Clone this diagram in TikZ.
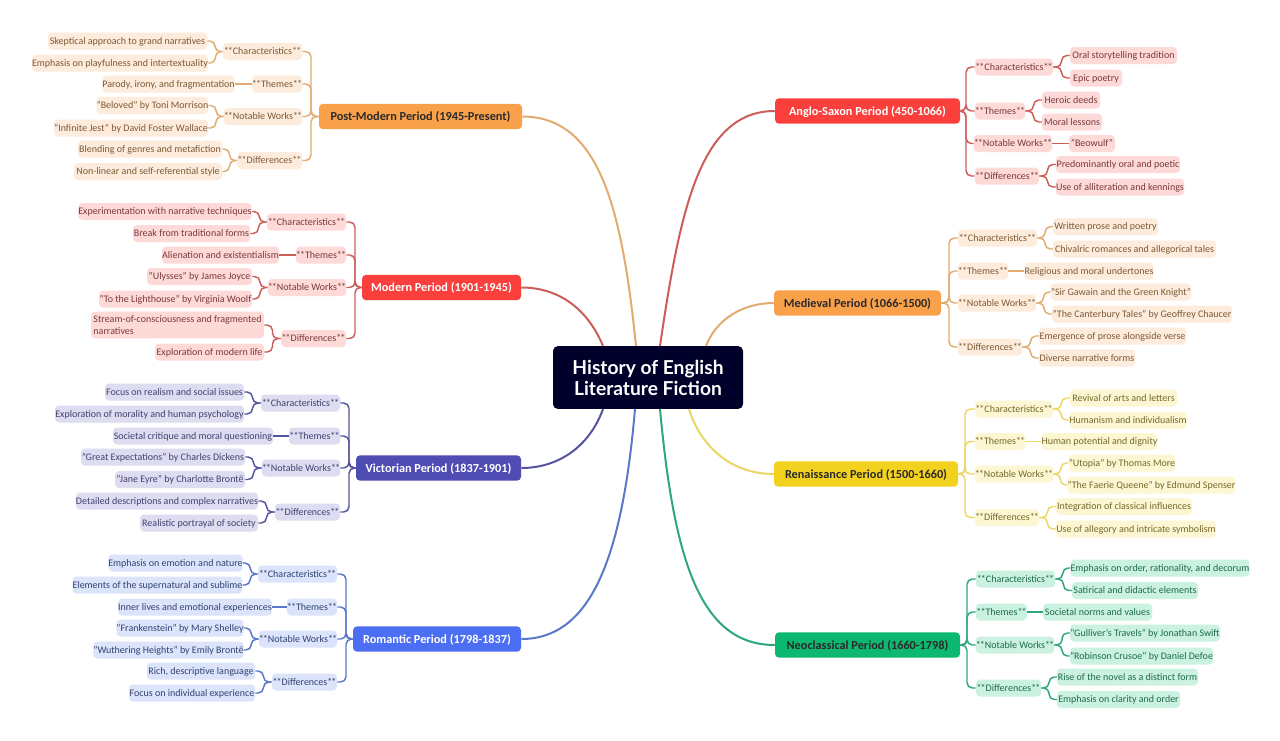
\documentclass[tikz,border=0pt]{standalone}
\usepackage{fontspec}
\setmainfont{Carlito}
\newfontfamily\titlefont{Lato}
\usetikzlibrary{calc}
\definecolor{cdark}{HTML}{00002B}
\definecolor{ink}{HTML}{2A2A2A}
\definecolor{rF}{HTML}{FA3F3C}\definecolor{rP}{HTML}{FDD9D8}\definecolor{rL}{HTML}{CC5E5A}\definecolor{rT}{HTML}{7A3A3A}
\definecolor{oF}{HTML}{F9A04B}\definecolor{oP}{HTML}{FDEBDC}\definecolor{oL}{HTML}{E2AC70}\definecolor{oT}{HTML}{7C5A36}
\definecolor{yF}{HTML}{F2D21F}\definecolor{yP}{HTML}{FDF6D2}\definecolor{yL}{HTML}{EBD765}\definecolor{yT}{HTML}{75692C}
\definecolor{gF}{HTML}{0DB870}\definecolor{gP}{HTML}{CBF1E1}\definecolor{gL}{HTML}{2FA67E}\definecolor{gT}{HTML}{1E6A50}
\definecolor{vF}{HTML}{4F4CB3}\definecolor{vP}{HTML}{DDDCF1}\definecolor{vL}{HTML}{55559E}\definecolor{vT}{HTML}{42426F}
\definecolor{bF}{HTML}{4C6EF2}\definecolor{bP}{HTML}{DCE4FB}\definecolor{bL}{HTML}{5A78C9}\definecolor{bT}{HTML}{304270}
\tikzset{
  leaf/.style={fill=#1P,text=#1T,rounded corners=3pt,inner sep=0pt,font=\fontsize{7.5pt}{9pt}\selectfont,minimum height=12.75pt},
  period/.style={fill=#1F,rounded corners=3pt,inner sep=0pt,font=\fontsize{9.2pt}{12pt}\selectfont\bfseries,minimum height=19pt,text height=7.7pt,text depth=1.5pt},
  link/.style={draw=#1L,line width=1.1pt,rounded corners=4pt},
  mainlink/.style={draw=#1L,line width=1.5pt},
}
\newcommand\stars{*\kern-0.7pt*}
\newcommand\Chr{\stars Characteristics\stars}
\newcommand\Thm{\stars Themes\stars}
\newcommand\Nwk{\stars Notable Works\stars}
\newcommand\Dif{\stars Differences\stars}
\newcommand\pill[6]{\pgfmathsetmacro\pw{(#4-#3)*0.75}\pgfmathsetmacro\px{(#3+#4)/2}%
  \node[leaf=#1,text height=6pt,text depth=1.4pt,minimum width=\pw pt] (#2) at (\px,#5) {#6};}
\newcommand\per[7]{\pgfmathsetmacro\pw{(#4-#3)*0.75}\pgfmathsetmacro\px{(#3+#4)/2}%
  \node[period=#1,text=#7,minimum width=\pw pt] (#2) at (\px,#5) {#6};}
% links with an elbow halfway across the gap, and straight ones for an only child
\newcommand\rlink[3]{\draw[link=#1] (#2.east) -- ($(#2.east)!.5!(#2.east -| #3.west)$) |- (#3.west);}
\newcommand\llink[3]{\draw[link=#1] (#2.west) -- ($(#2.west)!.5!(#2.west -| #3.east)$) |- (#3.east);}
\newcommand\rstraight[3]{\draw[link=#1] (#2.east) -- (#3.west);}
\newcommand\lstraight[3]{\draw[link=#1] (#2.west) -- (#3.east);}
\newcommand\rspine[4]{\coordinate (sp) at (#4,0);\draw[link=#1] (#2.east) -- (#2.east -| sp) |- (#3.west);}
\newcommand\lspine[4]{\coordinate (sp) at (#4,0);\draw[link=#1] (#2.west) -- (#2.west -| sp) |- (#3.east);}
\begin{document}
\begin{tikzpicture}[x=0.75pt,y=-0.75pt]
\useasboundingbox (0,0) rectangle (1280,740);
\fill[white] (0,0) rectangle (1280,740);

\node[fill=cdark,text=white,rounded corners=3.5pt,inner sep=0pt,minimum width=142.5pt,minimum height=47pt,align=center,font=\titlefont\fontsize{14.4pt}{15.8pt}\selectfont\bfseries] (c) at (648,377.5) {History of English\\ Literature Fiction};
\coordinate (tPM) at ($(c.north)+(-12,0)$);
\coordinate (tMO) at ($(c.north)+(-45,0)$);
\coordinate (tAS) at ($(c.north)+(12,0)$);
\coordinate (tME) at ($(c.north)+(58,0)$);
\coordinate (bVI) at ($(c.south)+(-45,0)$);
\coordinate (bRO) at ($(c.south)+(-13,0)$);
\coordinate (bNE) at ($(c.south)+(12,0)$);
\coordinate (bRE) at ($(c.south)+(41,0)$);

% ---- Anglo-Saxon
\per{r}{as}{775}{960}{111}{Anglo-Saxon Period (450-1066)}{white}
\pill{r}{as1}{975}{1053}{67}{\Chr}
\pill{r}{as1a}{1070}{1177}{55.5}{Oral storytelling tradition}
\pill{r}{as1b}{1070}{1122}{78}{Epic poetry}
\pill{r}{as2}{975}{1025}{111}{\Thm}
\pill{r}{as2a}{1042}{1100}{100}{Heroic deeds}
\pill{r}{as2b}{1042}{1102}{122}{Moral lessons}
\pill{r}{as3}{975}{1051}{143.5}{\Nwk}
\pill{r}{as3a}{1069}{1115}{143.5}{"Beowulf"}
\pill{r}{as4}{975}{1039}{176}{\Dif}
\pill{r}{as4a}{1056}{1180}{164.5}{Predominantly oral and poetic}
\pill{r}{as4b}{1056}{1184}{187}{Use of alliteration and kennings}
\rspine{r}{as}{as1}{966}\rspine{r}{as}{as2}{966}\rspine{r}{as}{as3}{966}\rspine{r}{as}{as4}{966}
\rlink{r}{as1}{as1a}\rlink{r}{as1}{as1b}\rlink{r}{as2}{as2a}\rlink{r}{as2}{as2b}\rstraight{r}{as3}{as3a}\rlink{r}{as4}{as4a}\rlink{r}{as4}{as4b}

% ---- Medieval
\per{o}{me}{774}{941}{303}{Medieval Period (1066-1500)}{ink}
\pill{o}{me1}{958}{1037}{238}{\Chr}
\pill{o}{me1a}{1053}{1158}{226.7}{Written prose and poetry}
\pill{o}{me1b}{1053}{1216}{249}{Chivalric romances and allegorical tales}
\pill{o}{me2}{958}{1008}{271}{\Thm}
\pill{o}{me2a}{1025}{1153}{271}{Religious and moral undertones}
\pill{o}{me3}{958}{1036}{303}{\Nwk}
\pill{o}{me3a}{1052}{1190}{292}{"Sir Gawain and the Green Knight"}
\pill{o}{me3b}{1052}{1232}{314}{"The Canterbury Tales" by Geoffrey Chaucer}
\pill{o}{me4}{958}{1022}{347}{\Dif}
\pill{o}{me4a}{1039}{1186}{336}{Emergence of prose alongside verse}
\pill{o}{me4b}{1039}{1135}{358}{Diverse narrative forms}
\rspine{o}{me}{me1}{949}\rspine{o}{me}{me2}{949}\rspine{o}{me}{me3}{949}\rspine{o}{me}{me4}{949}
\rlink{o}{me1}{me1a}\rlink{o}{me1}{me1b}\rstraight{o}{me2}{me2a}\rlink{o}{me3}{me3a}\rlink{o}{me3}{me3b}\rlink{o}{me4}{me4a}\rlink{o}{me4}{me4b}

% ---- Renaissance
\per{y}{re}{774}{958}{474}{Renaissance Period (1500-1660)}{ink}
\pill{y}{re1}{976}{1052}{409}{\Chr}
\pill{y}{re1a}{1070}{1177}{398}{Revival of arts and letters}
\pill{y}{re1b}{1070}{1186}{420}{Humanism and individualism}
\pill{y}{re2}{976}{1024}{441.5}{\Thm}
\pill{y}{re2a}{1042}{1157}{441.5}{Human potential and dignity}
\pill{y}{re3}{976}{1052}{474}{\Nwk}
\pill{y}{re3a}{1070}{1174}{463}{"Utopia" by Thomas More}
\pill{y}{re3b}{1070}{1233}{485}{"The Faerie Queene" by Edmund Spenser}
\pill{y}{re4}{976}{1038}{517.5}{\Dif}
\pill{y}{re4a}{1056}{1192}{506.5}{Integration of classical influences}
\pill{y}{re4b}{1056}{1216}{529}{Use of allegory and intricate symbolism}
\rspine{y}{re}{re1}{965}\rspine{y}{re}{re2}{965}\rspine{y}{re}{re3}{965}\rspine{y}{re}{re4}{965}
\rlink{y}{re1}{re1a}\rlink{y}{re1}{re1b}\rstraight{y}{re2}{re2a}\rlink{y}{re3}{re3a}\rlink{y}{re3}{re3b}\rlink{y}{re4}{re4a}\rlink{y}{re4}{re4b}

% ---- Neoclassical
\per{g}{ne}{775}{960}{645}{Neoclassical Period (1660-1798)}{ink}
\pill{g}{ne1}{976}{1055}{579}{\Chr}
\pill{g}{ne1a}{1072}{1248}{568}{Emphasis on order, rationality, and decorum}
\pill{g}{ne1b}{1072}{1198}{590.5}{Satirical and didactic elements}
\pill{g}{ne2}{976}{1027}{612}{\Thm}
\pill{g}{ne2a}{1043}{1152}{612}{Societal norms and values}
\pill{g}{ne3}{976}{1054}{645}{\Nwk}
\pill{g}{ne3a}{1070}{1220}{633}{"Gulliver's Travels" by Jonathan Swift}
\pill{g}{ne3b}{1070}{1213}{656}{"Robinson Crusoe" by Daniel Defoe}
\pill{g}{ne4}{976}{1041}{688}{\Dif}
\pill{g}{ne4a}{1057}{1198}{677}{Rise of the novel as a distinct form}
\pill{g}{ne4b}{1057}{1180}{699.5}{Emphasis on clarity and order}
\rspine{g}{ne}{ne1}{967}\rspine{g}{ne}{ne2}{967}\rspine{g}{ne}{ne3}{967}\rspine{g}{ne}{ne4}{967}
\rlink{g}{ne1}{ne1a}\rlink{g}{ne1}{ne1b}\rstraight{g}{ne2}{ne2a}\rlink{g}{ne3}{ne3a}\rlink{g}{ne3}{ne3b}\rlink{g}{ne4}{ne4a}\rlink{g}{ne4}{ne4b}

% ---- Post-Modern
\per{o}{pm}{319}{522}{116.5}{Post-Modern Period (1945-Present)}{ink}
\pill{o}{pm1}{223}{302}{51.5}{\Chr}
\pill{o}{pm1a}{48}{207}{41}{Skeptical approach to grand narratives}
\pill{o}{pm1b}{33}{207}{63}{Emphasis on playfulness and intertextuality}
\pill{o}{pm2}{252}{302}{84}{\Thm}
\pill{o}{pm2a}{103}{234}{84}{Parody, irony, and fragmentation}
\pill{o}{pm3}{224}{302}{116.5}{\Nwk}
\pill{o}{pm3a}{97}{208}{105.5}{"Beloved" by Toni Morrison}
\pill{o}{pm3b}{54}{208}{128}{"Infinite Jest" by David Foster Wallace}
\pill{o}{pm4}{237}{302}{160.5}{\Dif}
\pill{o}{pm4a}{78}{222}{149}{Blending of genres and metafiction}
\pill{o}{pm4b}{74}{222}{171.5}{Non-linear and self-referential style}
\lspine{o}{pm}{pm1}{311}\lspine{o}{pm}{pm2}{311}\lspine{o}{pm}{pm3}{311}\lspine{o}{pm}{pm4}{311}
\llink{o}{pm1}{pm1a}\llink{o}{pm1}{pm1b}\lstraight{o}{pm2}{pm2a}\llink{o}{pm3}{pm3a}\llink{o}{pm3}{pm3b}\llink{o}{pm4}{pm4a}\llink{o}{pm4}{pm4b}

% ---- Modern
\per{r}{mo}{362}{521}{287.5}{Modern Period (1901-1945)}{white}
\pill{r}{mo1}{267}{346}{222}{\Chr}
\pill{r}{mo1a}{80}{250}{211.5}{Experimentation with narrative techniques}
\pill{r}{mo1b}{133}{250}{233.5}{Break from traditional forms}
\pill{r}{mo2}{296}{346}{255}{\Thm}
\pill{r}{mo2a}{162}{279}{255}{Alienation and existentialism}
\pill{r}{mo3}{268}{346}{287.5}{\Nwk}
\pill{r}{mo3a}{147}{252}{276.5}{"Ulysses" by James Joyce}
\pill{r}{mo3b}{99}{252}{299}{"To the Lighthouse" by Virginia Woolf}
\pill{r}{mo4}{281}{346}{338.5}{\Dif}
\node[leaf=r,minimum width=129.75pt,minimum height=20pt,align=left] (mo4a) at (177.5,325) {Stream-of-consciousness and fragmented\\narratives};
\pill{r}{mo4b}{155}{264}{352}{Exploration of modern life}
\lspine{r}{mo}{mo1}{355}\lspine{r}{mo}{mo2}{355}\lspine{r}{mo}{mo3}{355}\lspine{r}{mo}{mo4}{355}
\llink{r}{mo1}{mo1a}\llink{r}{mo1}{mo1b}\lstraight{r}{mo2}{mo2a}\llink{r}{mo3}{mo3a}\llink{r}{mo3}{mo3b}\llink{r}{mo4}{mo4a}\llink{r}{mo4}{mo4b}

% ---- Victorian
\per{v}{vi}{356}{521}{468}{Victorian Period (1837-1901)}{white}
\pill{v}{vi1}{261}{340}{403}{\Chr}
\pill{v}{vi1a}{105}{244}{392}{Focus on realism and social issues}
\pill{v}{vi1b}{55}{244}{414}{Exploration of morality and human psychology}
\pill{v}{vi2}{289}{340}{436}{\Thm}
\pill{v}{vi2a}{113}{273}{436}{Societal critique and moral questioning}
\pill{v}{vi3}{262}{340}{468}{\Nwk}
\pill{v}{vi3a}{81}{245}{457}{"Great Expectations" by Charles Dickens}
\pill{v}{vi3b}{115}{245}{479.5}{"Jane Eyre" by Charlotte Brontë}
\pill{v}{vi4}{275}{340}{512}{\Dif}
\pill{v}{vi4a}{76}{258}{501}{Detailed descriptions and complex narratives}
\pill{v}{vi4b}{140}{258}{523}{Realistic portrayal of society}
\lspine{v}{vi}{vi1}{349}\lspine{v}{vi}{vi2}{349}\lspine{v}{vi}{vi3}{349}\lspine{v}{vi}{vi4}{349}
\llink{v}{vi1}{vi1a}\llink{v}{vi1}{vi1b}\lstraight{v}{vi2}{vi2a}\llink{v}{vi3}{vi3a}\llink{v}{vi3}{vi3b}\llink{v}{vi4}{vi4a}\llink{v}{vi4}{vi4b}

% ---- Romantic
\per{b}{ro}{353}{521}{639}{Romantic Period (1798-1837)}{white}
\pill{b}{ro1}{258}{337}{574}{\Chr}
\pill{b}{ro1a}{109}{242}{563}{Emphasis on emotion and nature}
\pill{b}{ro1b}{73}{242}{585}{Elements of the supernatural and sublime}
\pill{b}{ro2}{287}{337}{607}{\Thm}
\pill{b}{ro2a}{119}{271}{607}{Inner lives and emotional experiences}
\pill{b}{ro3}{259}{337}{639}{\Nwk}
\pill{b}{ro3a}{117}{243}{628}{"Frankenstein" by Mary Shelley}
\pill{b}{ro3b}{94}{243}{650}{"Wuthering Heights" by Emily Brontë}
\pill{b}{ro4}{272}{337}{682}{\Dif}
\pill{b}{ro4a}{147}{255}{671}{Rich, descriptive language}
\pill{b}{ro4b}{129}{255}{693}{Focus on individual experience}
\lspine{b}{ro}{ro1}{346}\lspine{b}{ro}{ro2}{346}\lspine{b}{ro}{ro3}{346}\lspine{b}{ro}{ro4}{346}
\llink{b}{ro1}{ro1a}\llink{b}{ro1}{ro1b}\lstraight{b}{ro2}{ro2a}\llink{b}{ro3}{ro3a}\llink{b}{ro3}{ro3b}\llink{b}{ro4}{ro4a}\llink{b}{ro4}{ro4b}

% ---- main connectors
\draw[mainlink=o] (tPM) .. controls (622,210) and (600,116.5) .. (pm.east);
\draw[mainlink=r] (tMO) .. controls (588,310) and (560,287.5) .. (mo.east);
\draw[mainlink=r] (tAS) .. controls (680,210) and (700,111) .. (as.west);
\draw[mainlink=o] (tME) .. controls (716,320) and (742,303) .. (me.west);
\draw[mainlink=v] (bVI) .. controls (590,445) and (560,468) .. (vi.east);
\draw[mainlink=b] (bRO) .. controls (622,560) and (590,639) .. (ro.east);
\draw[mainlink=g] (bNE) .. controls (674,560) and (700,645) .. (ne.west);
\draw[mainlink=y] (bRE) .. controls (700,445) and (730,474) .. (re.west);
\end{tikzpicture}
\end{document}
